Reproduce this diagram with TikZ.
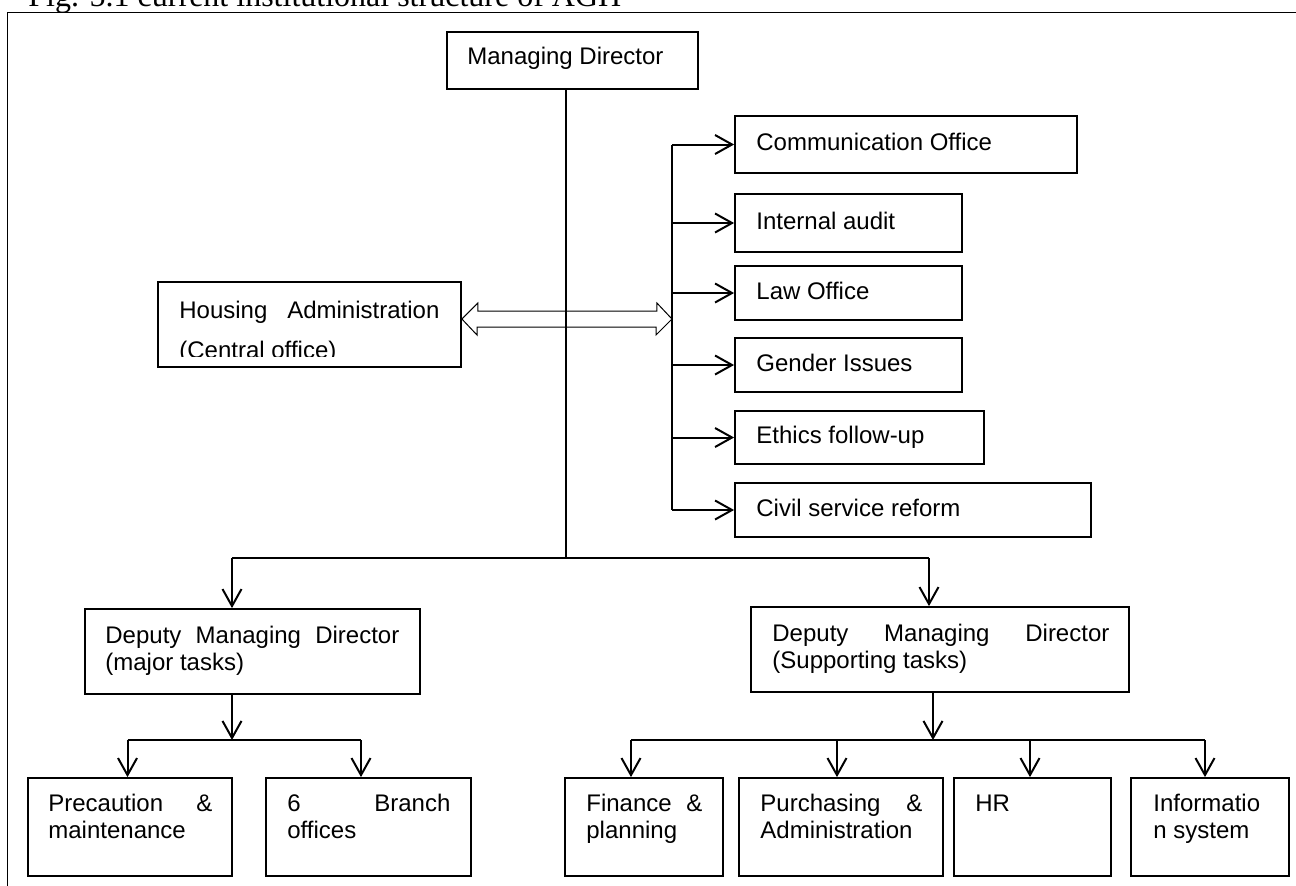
\documentclass[tikz,border=0pt]{standalone}
\usepackage{fontspec}
\setmainfont{Liberation Sans}
\newfontfamily\captionserif{Liberation Serif}
\usetikzlibrary{arrows.meta,fit}
\newcommand\jline[2]{\makebox[#1][s]{#2}}
\begin{document}
\begin{tikzpicture}[x=0.5pt,y=-0.5pt,
  box/.style={draw, line width=0.9pt, inner sep=0pt},
  txt/.style={inner sep=0pt, anchor=base west, font=\fontsize{12pt}{14pt}\selectfont},
  link/.style={line width=0.8pt},
  bar/.style={line width=1pt},
  arr/.style={line width=1pt, -{Straight Barb[length=8.5pt,width=9.5pt]}},
  hollow/.style={line width=0.5pt}
]
\useasboundingbox (0,0) rectangle (1296,885);
\clip (0,0) rectangle (1296,885);

% caption and page frame
\node[inner sep=0pt, anchor=base west, font=\captionserif\fontsize{16pt}{18pt}\selectfont] (cap) at (28,6.5) {Fig. 5.1 current institutional structure of AGH};
\draw[line width=0.75pt] (1330,12.5) -- (7.5,12.5) -- (7.5,900);

% top level
\node[box, fit={(447,32) (698,89)}] (md) {};
\node[txt] (mdT) at (467,64) {Managing Director};

% staff offices on the right
\node[box, fit={(735,116) (1077,173)}] (comm) {};
\node[txt] (commT) at (756,150) {Communication Office};
\node[box, fit={(735,194) (962,252)}] (audit) {};
\node[txt] (auditT) at (756,229) {Internal audit};
\node[box, fit={(735,266) (962,320)}] (law) {};
\node[txt] (lawT) at (756,299) {Law Office};
\node[box, fit={(735,338) (962,392)}] (gender) {};
\node[txt] (genderT) at (756,371) {Gender Issues};
\node[box, fit={(735,411) (984,464)}] (ethics) {};
\node[txt] (ethicsT) at (756,443.5) {Ethics follow-up};
\node[box, fit={(735,483) (1091,537)}] (civil) {};
\node[txt] (civilT) at (756,516) {Civil service reform};

% housing administration
\node[box, fit={(158,282) (461,367)}] (hous) {};
\node[txt] (housT1) at (179,318) {\jline{130pt}{Housing\hfill Administration}};
\begin{scope}
  \clip (158,282) rectangle (461,356.5);
  \node[txt] (housT2) at (179,358) {(Central office)};
\end{scope}

% deputies
\node[box, fit={(85,609) (420,694)}] (dma) {};
\node[txt] (dmaT1) at (105,643) {\jline{147pt}{Deputy\hfill Managing\hfill Director}};
\node[txt] (dmaT2) at (105,670) {(major tasks)};
\node[box, fit={(751,607) (1129,692)}] (dms) {};
\node[txt] (dmsT1) at (772,641) {\jline{168.5pt}{Deputy\hfill Managing\hfill Director}};
\node[txt] (dmsT2) at (772,668) {(Supporting tasks)};

% departments
\node[box, fit={(28,778) (232,876)}] (prec) {};
\node[txt] (precT1) at (48,811) {\jline{82pt}{Precaution\hfill\&}};
\node[txt] (precT2) at (48,838) {maintenance};
\node[box, fit={(266,778) (471,876)}] (branch) {};
\node[txt] (branchT1) at (287,811) {\jline{81.5pt}{6\hfill Branch}};
\node[txt] (branchT2) at (287,838) {offices};
\node[box, fit={(565,778) (723,876)}] (fin) {};
\node[txt] (finT1) at (586,811) {\jline{58pt}{Finance\hfill\&}};
\node[txt] (finT2) at (586,838) {planning};
\node[box, fit={(739,778) (943,876)}] (purch) {};
\node[txt] (purchT1) at (760,811) {\jline{81pt}{Purchasing\hfill\&}};
\node[txt] (purchT2) at (760,838) {Administration};
\node[box, fit={(954,778) (1111,876)}] (hr) {};
\node[txt] (hrT) at (975,811) {HR};
\node[box, fit={(1131,778) (1289,876)}] (info) {};
\node[txt] (infoT1) at (1153,811) {Informatio};
\node[txt] (infoT2) at (1153,838) {n system};

% trunk from the managing director to the deputies
\coordinate (trunk) at (566,558);
\coordinate (brL) at (232,558);
\coordinate (brR) at (929,558);
\draw[link] (md.south -| trunk) -- (trunk);
\draw[bar] (brL) -- (brR);
\draw[arr] (brL) -- (brL |- dma.north);
\draw[arr] (brR) -- (brR |- dms.north);

% bus feeding the staff offices
\coordinate (bus) at (672,0);
\draw[bar] (comm.west -| bus) -- (civil.west -| bus);
\foreach \b in {comm,audit,law,gender,ethics,civil}
  \draw[arr] (\b.west -| bus) -- (\b.west);

% two-way link between housing administration and the bus
\coordinate (dl) at (hous.east |- 0,319);
\coordinate (dr) at (bus |- 0,319);
\draw[hollow] (dl) -- ++(16,-16) -- ++(0,8) -- ++(179,0) -- ++(0,-8) -- (dr)
  -- ++(-16,16) -- ++(0,-8) -- ++(-179,0) -- ++(0,8) -- cycle;

% major tasks branch
\coordinate (ma) at (232,740);
\coordinate (la) at (127.5,740);
\coordinate (lb) at (361,740);
\draw[arr] (dma.south -| ma) -- (ma);
\draw[bar] (la) -- (lb);
\draw[arr] (la) -- (la |- prec.north);
\draw[arr] (lb) -- (lb |- branch.north);

% supporting tasks branch
\coordinate (ms) at (933,740);
\coordinate (sa) at (631,740);
\coordinate (sb) at (837,740);
\coordinate (sc) at (1030,740);
\coordinate (sd) at (1205,740);
\draw[arr] (dms.south -| ms) -- (ms);
\draw[bar] (sa) -- (sd);
\draw[arr] (sa) -- (sa |- fin.north);
\draw[arr] (sb) -- (sb |- purch.north);
\draw[arr] (sc) -- (sc |- hr.north);
\draw[arr] (sd) -- (sd |- info.north);
\end{tikzpicture}
\end{document}
